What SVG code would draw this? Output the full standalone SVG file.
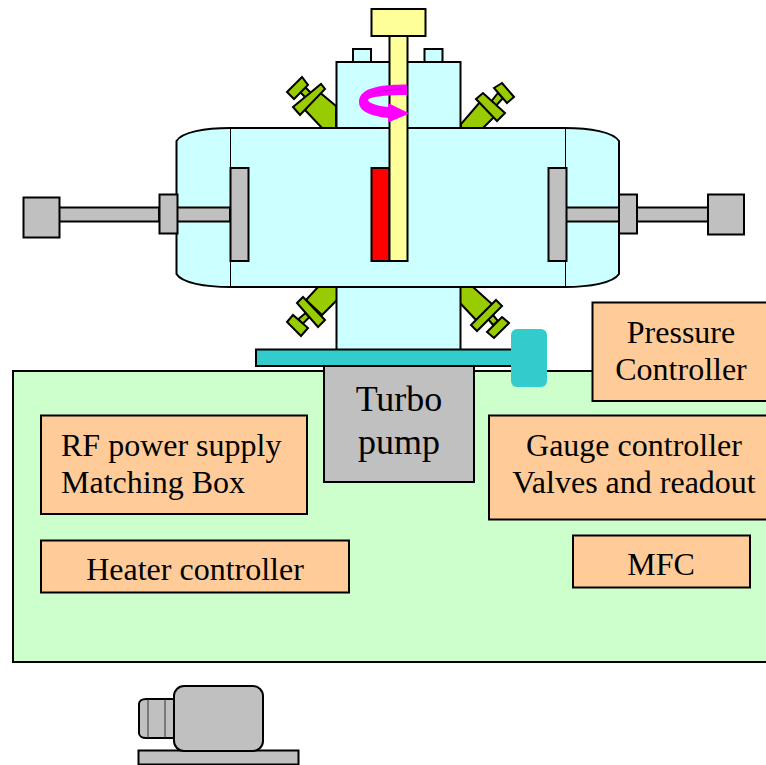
<svg xmlns="http://www.w3.org/2000/svg" width="766" height="765" viewBox="0 0 766 765">
<style>
.s{stroke:#000;stroke-width:2}
.cy{fill:#CCFFFF}
.gr{fill:#C0C0C0}
.ye{fill:#FFFF99}
.ol{fill:#99CC00}
.or{fill:#FFCC99}
text{font-family:"Liberation Serif","Times New Roman",serif;font-size:32px;fill:#000;text-anchor:middle}
</style>
<rect width="766" height="765" fill="#fff"/>
<g id="cabinet"><rect class="s" x="13" y="371" width="760" height="291" fill="#CCFFCC"/></g>
<g id="valve-top-left">
<polygon class="s ol" points="305,110 322,128 336,128 336,106 318,91"/>
<polygon class="s ol" points="300,92 305,87 315,97 310,102"/>
<polygon class="s ol" points="287,92 302,77 308,85 294,99"/>
<polygon class="s ol" points="293,107 321,84 325,89 300,115"/>
</g>
<g id="valve-top-right">
<polygon class="s ol" points="461,128 483,128 495,116 480,102 461,124"/>
<polygon class="s ol" points="494,108 490,103 498,93 503,98"/>
<polygon class="s ol" points="494,88 502,83 514,97 507,103"/>
<polygon class="s ol" points="476,99 483,93 505,113 497,121"/>
</g>
<g id="valve-bottom-left">
<polygon class="s ol" points="337,287 318,287 306,300 322,315 337,300"/>
<polygon class="s ol" points="298.500,319 305.500,313 309.500,317 302.500,324"/>
<polygon class="s ol" points="287,322 293,315 308,328 301,336"/>
<polygon class="s ol" points="297,303 303,297 325,320 318,327"/>
</g>
<g id="valve-bottom-right">
<polygon class="s ol" points="460,287 473,287 493,305 477,321 460,303"/>
<polygon class="s ol" points="488,319 493,315 498,321 493,325"/>
<polygon class="s ol" points="502,317 509,323 494,338 487,332"/>
<polygon class="s ol" points="496,300 502,306 477,331 471,325"/>
</g>
<g id="lower-neck"><rect class="s cy" x="336.500" y="280" width="124" height="70"/></g>
<g id="upper-neck">
<rect class="s cy" x="353" y="49" width="18" height="14"/>
<rect class="s cy" x="424.500" y="49" width="18" height="14"/>
<rect class="s cy" x="336.500" y="62" width="124" height="70"/>
</g>
<g id="chamber">
<path class="s cy" d="M176.500 141C182 132 205 128 230 128H565C590 128 613 132 619 141V274C613 283 590 287 565 287H230C205 287 182 283 176.500 274Z"/>
<line x1="230.500" y1="128" x2="230.500" y2="287" stroke="#000"/>
<line x1="565.500" y1="128" x2="565.500" y2="287" stroke="#000"/>
</g>
<g id="left-actuator">
<rect class="s gr" x="59" y="207.500" width="100" height="14"/>
<rect class="s gr" x="177" y="207.500" width="53" height="14"/>
<rect class="s gr" x="23.500" y="197.500" width="36" height="40"/>
<rect class="s gr" x="159.500" y="194.500" width="18" height="39"/>
<rect class="s gr" x="230.500" y="168" width="18" height="93"/>
</g>
<g id="right-actuator">
<rect class="s gr" x="637" y="207.500" width="71" height="14"/>
<rect class="s gr" x="566" y="207.500" width="53" height="14"/>
<rect class="s gr" x="708" y="194.500" width="36" height="40"/>
<rect class="s gr" x="619" y="194.500" width="18" height="39"/>
<rect class="s gr" x="548.500" y="168" width="18" height="93"/>
</g>
<g id="sample-holder">
<rect class="s" x="371.500" y="168" width="18" height="93" fill="#FF0000"/>
<rect class="s ye" x="389.500" y="36" width="18" height="225"/>
<rect class="s ye" x="371.500" y="9" width="54" height="27"/>
</g>
<g id="rotation-arrow">
<path fill="#FF00FF" d="M407 84.500C383 84.500 359 87 359 102C359 112 372 116 388 118V122.500L409.500 113.500L388 103V107C378 106 368 103 368 100C368 97 385 95 407 95Z"/>
<path fill="none" stroke="#CC00CC" d="M370 95C377 91 390 90 402 89"/>
</g>
<g id="flange">
<rect class="s" x="256" y="349.500" width="262" height="16.500" fill="#33CCCC"/>
<rect x="511" y="329" width="36" height="58" rx="6" fill="#33CCCC"/>
</g>
<g id="turbo-pump">
<rect class="s gr" x="324" y="366" width="150" height="116"/>
<text x="399" y="411" style="font-size:36px">Turbo</text>
<text x="399" y="454" style="font-size:36px">pump</text>
</g>
<g id="pressure-controller">
<rect class="s or" x="592.500" y="302.500" width="180" height="98.500"/>
<text x="681" y="343">Pressure</text>
<text x="681" y="380">Controller</text>
</g>
<g id="rf-supply">
<rect class="s or" x="41" y="415.500" width="266" height="98.500"/>
<text x="61" y="456" style="text-anchor:start">RF power supply</text>
<text x="61" y="493" style="text-anchor:start">Matching Box</text>
</g>
<g id="gauge-controller">
<rect class="s or" x="489" y="415.500" width="284" height="104"/>
<text x="634" y="456">Gauge controller</text>
<text x="634" y="493">Valves and readout</text>
</g>
<g id="heater-controller">
<rect class="s or" x="41" y="540.500" width="308" height="52"/>
<text x="195" y="580">Heater controller</text>
</g>
<g id="mfc">
<rect class="s or" x="573" y="535.500" width="177" height="52"/>
<text x="661" y="575">MFC</text>
</g>
<g id="motor">
<rect class="s gr" x="138.500" y="750.500" width="160" height="14"/>
<path class="s gr" d="M146 699H174V738H146C142 738 139 736 139 733V704C139 701 142 699 146 699Z"/>
<line x1="148" y1="699" x2="148" y2="738" stroke="#333"/>
<line x1="165" y1="699" x2="165" y2="738" stroke="#333"/>
<rect class="s gr" x="174" y="686" width="89" height="65" rx="10"/>
</g>
</svg>
